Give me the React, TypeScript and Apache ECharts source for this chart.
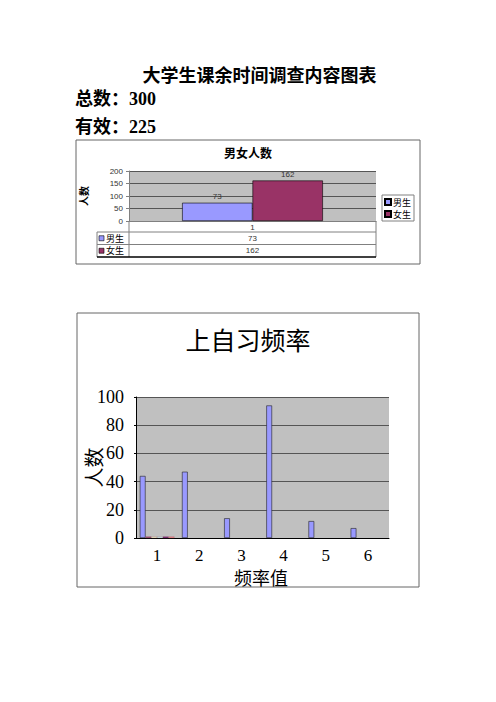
import React, { useEffect, useRef } from 'react';
import * as echarts from 'echarts';

// header figures
const totalCount = 300;
const validCount = 225;

// chart 1: 男女人数
const genderCategories = ['1'];
const genderNames = ['男生', '女生'];
const maleValues = [73];
const femaleValues = [162];
const genderTicks = [0, 50, 100, 150, 200];

// chart 2: 上自习频率
const freqCategories = ['1', '2', '3', '4', '5', '6'];
const freqSeries1 = [44, 47, 14, 94, 12, 7];
const freqSeries2 = [1, null, null, null, null, null];
const freqSeries3 = [1, null, null, null, null, null];
const freqSeries4 = [1, null, null, null, null, null];
const freqSeries5 = [1, null, null, null, null, null];
const freqSeries6 = [1, null, null, null, null, null];
const freqTicks = [0, 20, 40, 60, 80, 100];

const genderColors = ['#9999FF', '#993366'];
const freqColors = ['#9999FF', '#993366', '#FFFFCC', '#CCFFFF', '#660066', '#FF8080'];

const CJK = '"Noto Sans CJK SC", sans-serif';
const SERIF = '"Liberation Serif", "Noto Sans CJK SC", serif';
const SMALL = '"Liberation Sans", "Noto Sans CJK SC", sans-serif';

export default function App() {
    const chartRef = useRef<HTMLDivElement>(null);

    useEffect(() => {
        const chart = echarts.init(chartRef.current!, null, { renderer: 'svg' });

        // chart 1 plot box
        const g1 = { left: 129, top: 171, width: 247, height: 50 };
        const g2 = { left: 136, top: 397, width: 253, height: 141 };
        const tableX0 = 97;
        const tableRight = g1.left + g1.width;
        const colCenter = g1.left + g1.width / 2;
        const rowY = [221, 232, 244.5, 257];

        const text = (t: string, x: number, y: number, font: string, align = 'left', fill = '#000', lineHeight?: number) => ({
            type: 'text',
            silent: true,
            style: {
                text: t, x, y, font, fill, lineHeight,
                textAlign: align, align,
                textVerticalAlign: 'middle', verticalAlign: 'middle',
            },
        });
        const line = (x1: number, y1: number, x2: number, y2: number, stroke = '#808080', w = 1) => ({
            type: 'line',
            silent: true,
            shape: { x1, y1, x2, y2 },
            style: { stroke, lineWidth: w },
        });

        const tableRows = [maleValues, femaleValues];
        const tableGraphics: any[] = [];
        tableRows.forEach((vals, i) => {
            const cy = (rowY[i + 1] + rowY[i + 2]) / 2;
            tableGraphics.push({
                type: 'rect',
                silent: true,
                shape: { x: 99, y: cy - 2.5, width: 5, height: 5 },
                style: { fill: genderColors[i], stroke: '#000', lineWidth: 0.6 },
            });
            tableGraphics.push(text(genderNames[i], 106, cy, `9px ${CJK}`));
            tableGraphics.push(text(String(vals[0]), colCenter, cy, `8px ${SMALL}`, 'center', '#333'));
        });

        chart.setOption({
            animation: false,
            backgroundColor: '#fff',
            grid: [
                { ...g1, show: true, backgroundColor: '#C0C0C0', borderWidth: 0, containLabel: false },
                { ...g2, show: true, backgroundColor: '#C0C0C0', borderWidth: 0 },
            ],
            legend: {
                data: genderNames,
                left: 382,
                top: 195,
                orient: 'vertical',
                borderColor: '#808080',
                borderWidth: 1,
                padding: [2, 3, 2, 2],
                itemGap: 2,
                itemWidth: 6,
                itemHeight: 6,
                icon: 'rect',
                textStyle: { fontSize: 9, lineHeight: 10, fontFamily: CJK, color: '#000', padding: [0, 0, 0, -3] },
            },
            xAxis: [
                {
                    type: 'category',
                    gridIndex: 0,
                    data: genderCategories,
                    axisLine: { lineStyle: { color: '#808080' } },
                    axisTick: { show: false },
                    axisLabel: { margin: 2, fontSize: 8, fontFamily: SMALL, color: '#333' },
                },
                {
                    type: 'category',
                    gridIndex: 1,
                    data: freqCategories,
                    axisLine: { lineStyle: { color: '#000' } },
                    axisTick: { inside: true, length: 6, lineStyle: { color: '#000' } },
                    axisLabel: { margin: 9, fontSize: 17, lineHeight: 17, fontFamily: SERIF, color: '#000' },
                },
            ],
            yAxis: [
                {
                    type: 'value',
                    gridIndex: 0,
                    min: genderTicks[0],
                    max: genderTicks[genderTicks.length - 1],
                    interval: genderTicks[1] - genderTicks[0],
                    name: '人数',
                    nameLocation: 'middle',
                    nameGap: 41,
                    nameMoveOverlap: false,
                    nameTextStyle: { fontSize: 10, fontWeight: 'bold', fontFamily: CJK, color: '#000' },
                    axisLine: { show: true, lineStyle: { color: '#808080' } },
                    axisTick: { show: true, length: 3, lineStyle: { color: '#808080' } },
                    axisLabel: { margin: 6, fontSize: 8, fontFamily: SMALL, color: '#333' },
                    splitLine: { lineStyle: { color: '#555', width: 1 } },
                },
                {
                    type: 'value',
                    gridIndex: 1,
                    min: freqTicks[0],
                    max: freqTicks[freqTicks.length - 1],
                    interval: freqTicks[1] - freqTicks[0],
                    name: '人数',
                    nameLocation: 'middle',
                    nameGap: 33,
                    nameMoveOverlap: false,
                    nameTextStyle: { fontSize: 20, fontFamily: CJK, color: '#000' },
                    axisLine: { show: true, lineStyle: { color: '#000' } },
                    axisTick: { show: true, length: 2, lineStyle: { color: '#000' } },
                    axisLabel: { margin: 12, fontSize: 18, fontFamily: SERIF, color: '#000' },
                    splitLine: { lineStyle: { color: '#555', width: 1 } },
                },
            ],
            series: [
                {
                    name: genderNames[0],
                    type: 'bar',
                    xAxisIndex: 0,
                    yAxisIndex: 0,
                    data: maleValues,
                    barGap: '0%',
                    barCategoryGap: '43%',
                    itemStyle: { color: genderColors[0], borderColor: '#000', borderWidth: 0.6 },
                    label: { show: true, position: 'top', distance: 2, fontSize: 8, fontFamily: SMALL, color: '#333' },
                },
                {
                    name: genderNames[1],
                    type: 'bar',
                    xAxisIndex: 0,
                    yAxisIndex: 0,
                    data: femaleValues,
                    barGap: '0%',
                    barCategoryGap: '43%',
                    itemStyle: { color: genderColors[1], borderColor: '#000', borderWidth: 0.6 },
                    label: { show: true, position: 'top', distance: 2, fontSize: 8, fontFamily: SMALL, color: '#333' },
                },
                ...[freqSeries1, freqSeries2, freqSeries3, freqSeries4, freqSeries5, freqSeries6].map((d, i) => ({
                    name: `系列${i + 1}`,
                    type: 'bar',
                    xAxisIndex: 1,
                    yAxisIndex: 1,
                    data: d,
                    barGap: '0%',
                    barCategoryGap: '18%',
                    itemStyle: { color: freqColors[i], borderColor: i === 0 ? '#222' : '#8a5a6a', borderWidth: i === 0 ? 0.6 : 0.3 },
                })),
            ],
            graphic: [
                text('大学生课余时间调查内容图表', 259.5, 76, `bold 18px ${SERIF}`, 'center'),
                text(`总数：${totalCount}`, 75, 98.5, `bold 18px ${SERIF}`),
                text(`有效：${validCount}`, 75, 126.5, `bold 18px ${SERIF}`),
                // chart 1 frame
                {
                    type: 'rect',
                    silent: true,
                    z: -10,
                    shape: { x: 76, y: 140, width: 344, height: 124 },
                    style: { fill: 'none', stroke: '#666', lineWidth: 1 },
                },
                text('男女人数', 248, 152.5, `bold 12px ${CJK}`, 'center'),
                // data table
                line(g1.left, rowY[0], g1.left, rowY[3]),
                line(tableRight, rowY[0], tableRight, rowY[3]),
                line(tableX0, rowY[1], tableX0, rowY[3]),
                line(tableX0, rowY[1], tableRight, rowY[1]),
                line(tableX0, rowY[2], tableRight, rowY[2]),
                line(tableX0, rowY[3], tableRight, rowY[3], '#000', 1.5),
                ...tableGraphics,
                // chart 2 frame
                {
                    type: 'rect',
                    silent: true,
                    z: -10,
                    shape: { x: 77, y: 313, width: 342, height: 274 },
                    style: { fill: 'none', stroke: '#666', lineWidth: 1 },
                },
                text('上自习频率', 248, 338.5, `25px ${CJK}`, 'center'),
                // x axis name of chart 2, placed just under the category labels
                text('频率值', 261, 577, `18px ${CJK}`, 'center', '#000', 18),
            ],
        });

        return () => {
            chart.dispose();
        };
    }, []);

    return (
        <div
            ref={chartRef}
            style={{ position: 'absolute', left: 0, top: 0, width: 496, height: 702 }}
        />
    );
}
